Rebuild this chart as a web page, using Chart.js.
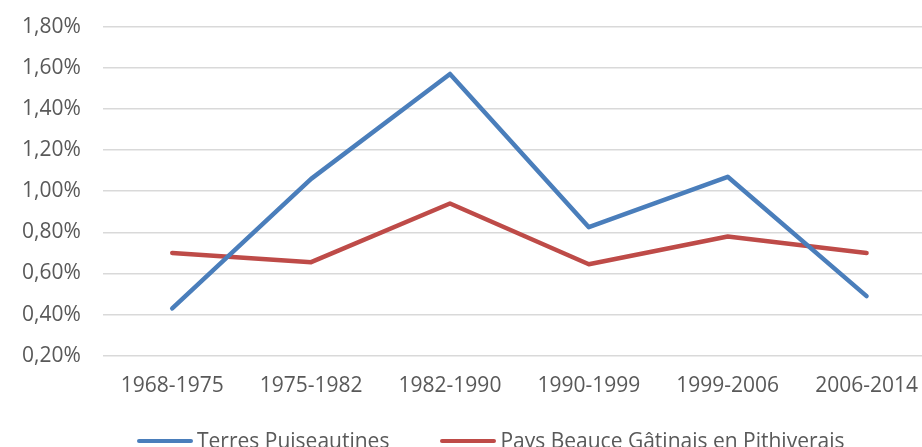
<!DOCTYPE html>
<html>
<head>
<meta charset="utf-8">
<script src="https://cdn.jsdelivr.net/npm/chart.js@4.4.0/dist/chart.umd.min.js"></script>
<style>
  html, body { margin: 0; padding: 0; overflow: hidden; background: #fff; }
  #wrap { position: relative; width: 936px; height: 447px; }
  #mycanvas { position: absolute; left: 0; top: -8px; }
  #legend { position: absolute; left: 137px; top: 426px; font-family: "Open Sans", sans-serif; font-size: 21px; color: #595959; white-space: nowrap; }
  #legend span.item { display: inline-block; margin-right: 51px; }
  #legend span.swatch { display: inline-block; width: 56px; height: 4px; border-radius: 2px; vertical-align: middle; margin-right: 4px; position: relative; top: -1px; }
</style>
</head>
<body>
<div id="wrap">
  <canvas id="mycanvas" width="936" height="455"></canvas>
  <div id="legend"></div>
</div>
<script>
// periods on the x axis
var periodes = ["1968-1975", "1975-1982", "1982-1990", "1990-1999", "1999-2006", "2006-2014"];
// annual growth rate, in %
var terresPuiseautines = [0.43, 1.06, 1.57, 0.825, 1.07, 0.49];
var paysBeauce = [0.70, 0.655, 0.94, 0.645, 0.78, 0.70];
var seriesNames = ["Terres Puiseautines", "Pays Beauce Gâtinais en Pithiverais"];
var seriesColors = ["#4a7ebb", "#be4b48"];

var chartdata = {
  labels: periodes,
  datasets: [
    {
      label: seriesNames[0],
      data: terresPuiseautines,
      borderColor: seriesColors[0],
      backgroundColor: seriesColors[0],
      borderWidth: 4.5,
      pointRadius: 0,
      tension: 0,
      borderJoinStyle: "round",
      borderCapStyle: "round",
      fill: false
    },
    {
      label: seriesNames[1],
      data: paysBeauce,
      borderColor: seriesColors[1],
      backgroundColor: seriesColors[1],
      borderWidth: 4.5,
      pointRadius: 0,
      tension: 0,
      borderJoinStyle: "round",
      borderCapStyle: "round",
      fill: false
    }
  ]
};

var ctx = document.getElementById("mycanvas");

var LineGraph = new Chart(ctx, {
  type: "line",
  data: chartdata,
  options: {
    responsive: false,
    animation: false,
    layout: { padding: { left: 0, right: 0, top: 6, bottom: 38 } },
    plugins: {
      legend: { display: false },
      tooltip: { enabled: false }
    },
    scales: {
      x: {
        offset: true,
        grid: { display: false },
        border: { display: false },
        ticks: {
          color: "#595959",
          padding: 10,
          maxRotation: 0,
          font: { family: "Open Sans", size: 21 }
        }
      },
      y: {
        min: 0.2,
        max: 1.8,
        border: { display: false },
        grid: { color: "#d9d9d9", lineWidth: 1.5, drawTicks: false },
        ticks: {
          stepSize: 0.2,
          color: "#595959",
          padding: 22,
          font: { family: "Open Sans", size: 21 },
          callback: function(v) { return v.toFixed(2).replace(".", ",") + "%"; }
        }
      }
    }
  }
});

// legend under the chart
var legendHtml = "";
for (var i in seriesNames) {
  legendHtml += '<span class="item"><span class="swatch" style="background:' + seriesColors[i] + '"></span>' + seriesNames[i] + '</span>';
}
document.getElementById("legend").innerHTML = legendHtml;
</script>
</body>
</html>
